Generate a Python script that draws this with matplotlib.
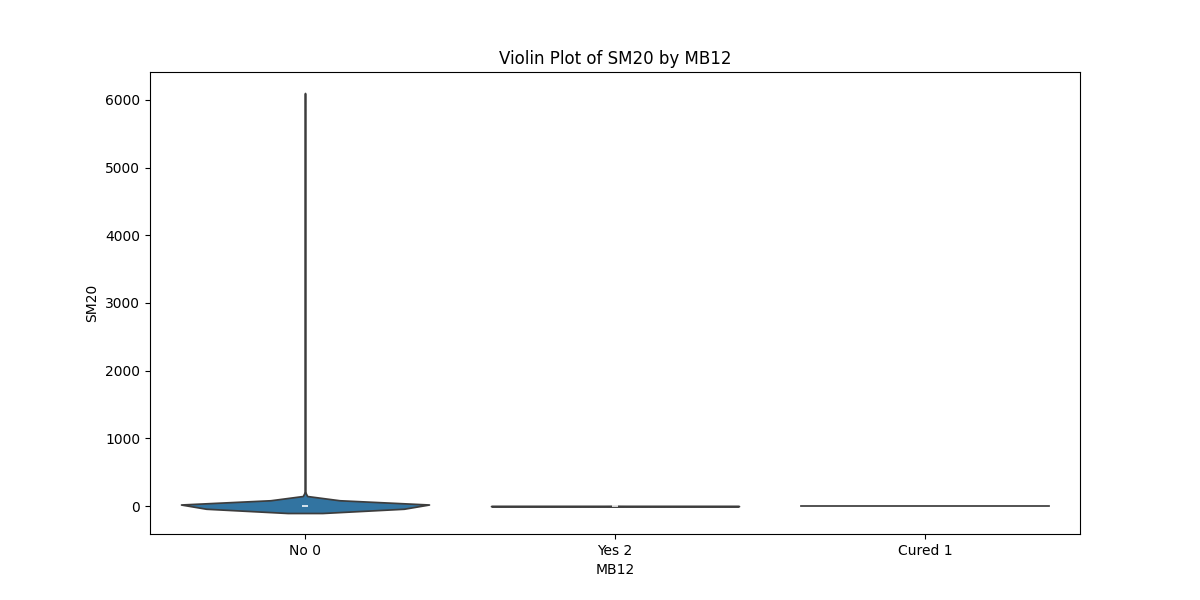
import numpy as np
import pandas as pd
import matplotlib
matplotlib.use("Agg")
import matplotlib.pyplot as plt
import seaborn as sns

groups = ["No 0", "Yes 2", "Cured 1"]

# distinct SM20 values and how often they occur in each MB12 group
no_values = [0, 1, 2, 3, 5, 10, 20, 40, 6000]
no_counts = [500, 150, 100, 60, 50, 30, 15, 5, 1]
yes_values = [-3, -2, -1, 0, 1, 2, 3]
yes_counts = [2, 4, 6, 10, 6, 4, 2]
cured_values = [0]
cured_counts = [4]

rows = []
for name, vals, cnts in [(groups[0], no_values, no_counts),
                         (groups[1], yes_values, yes_counts),
                         (groups[2], cured_values, cured_counts)]:
    for v, c in zip(vals, cnts):
        rows += [(name, v)] * c
df = pd.DataFrame(rows, columns=["MB12", "SM20"])

plt.figure(figsize=(12, 6))
sns.violinplot(data=df, x="MB12", y="SM20", hue="MB12", order=groups, legend=False)
plt.title("Violin Plot of SM20 by MB12")
plt.xlabel("MB12")
plt.ylabel("SM20")
plt.savefig("out.png", dpi=100)
